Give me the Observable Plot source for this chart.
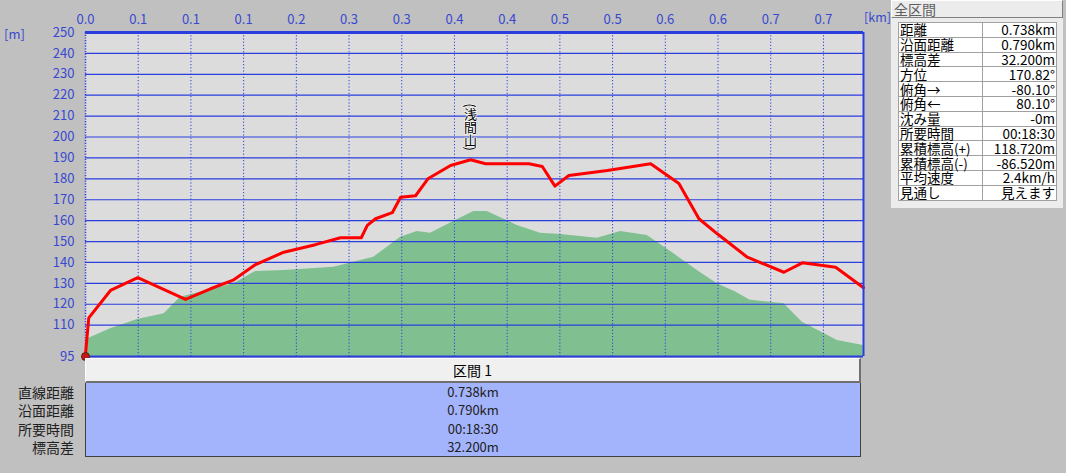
<!DOCTYPE html>
<html lang="ja">
<head>
<meta charset="utf-8">
<script src="https://cdn.jsdelivr.net/npm/d3@7"></script>
<script src="https://cdn.jsdelivr.net/npm/@observablehq/plot@0.6"></script>
<style>
  html, body { margin: 0; padding: 0; background: #c0c0c0; }
  #wrap { position: relative; width: 1066px; height: 473px; overflow: hidden; background: #c0c0c0;
          font-family: "Noto Sans CJK JP", "DejaVu Sans", sans-serif; }
  #chart { position: absolute; left: 0; top: 0; }
  .unit { position: absolute; color: #3848d0; font-size: 13px; line-height: 14px; }
  #panelHead { position: absolute; left: 891px; top: 0px; width: 172px; background: #ececec;
               border: 1px solid #ffffff; border-right-color: #808080; border-bottom-color: #808080;
               font-size: 14px; line-height: 16px; color: #606060; padding-left: 2px; box-sizing: border-box; height: 18px; }
  #panelBody { position: absolute; left: 891px; top: 18px; width: 172px; height: 190px; background: #ececec; }
  #summary { position: absolute; left: 7px; top: 4px; width: 159px; border-collapse: collapse; background: #fff; }
  #summary td { border: 1px solid #a0a0a0; height: 13.8px; padding: 0 1px; font-size: 13.5px; line-height: 13px; color: #000; white-space: nowrap; }
  #summary td.v { text-align: right; }
  #segHead { position: absolute; left: 85px; top: 358px; width: 776px; height: 25px; box-sizing: border-box;
             background: #f0f0f0; border: 1px solid #ffffff; border-right: 2px solid #707070; border-bottom: 2px solid #707070;
             text-align: center; font-size: 14px; line-height: 23px; color: #000; }
  #segBody { position: absolute; left: 85px; top: 383px; width: 776px; height: 74px; box-sizing: border-box;
             background: #a4b4fc; border: 1px solid #404040; border-top: none; }
  .segVal { position: absolute; left: 0; width: 100%; text-align: center; font-size: 13px; line-height: 16px; color: #202020; }
  .segLab { position: absolute; right: calc(1066px - 74px); font-size: 14px; line-height: 16px; color: #202020; text-align: right; white-space: nowrap; }
</style>
</head>
<body>
<div id="wrap">
  <div id="chart"></div>
  <div class="unit" style="left:4px; top:27px;">[m]</div>
  <div class="unit" style="left:864px; top:10px; font-size:12.5px;">[km]</div>
  <div id="panelHead"></div>
  <div id="panelBody"><table id="summary"></table></div>
  <div id="segHead"></div>
  <div id="segBody"></div>
</div>
<script>
// ---- Route elevation profile (red line): distance [km], elevation [m]
const routeKm   = [0, 0.0031, 0.0237, 0.0496, 0.0949, 0.1186, 0.1407, 0.1613, 0.1881, 0.2180, 0.2419, 0.2616, 0.2673, 0.2751, 0.2910, 0.2989, 0.3131, 0.3248, 0.3463, 0.3653, 0.3795, 0.4206, 0.4333, 0.4453, 0.4585, 0.4950, 0.5361, 0.5629, 0.5819, 0.5993, 0.6278, 0.6625, 0.6800, 0.7116, 0.7380];
const routeElev = [96, 113.5, 126.6, 132.7, 122.3, 127.4, 131.7, 139.0, 144.9, 148.5, 151.8, 151.8, 157.7, 160.9, 163.8, 171.2, 171.9, 180.0, 186.4, 189.1, 187.2, 187.2, 185.9, 176.5, 181.6, 184.0, 187.2, 177.8, 160.9, 153.7, 142.5, 135.3, 139.8, 137.7, 127.9];

// ---- Terrain cross-section (green area): distance [km], elevation [m]
const terrainKm   = [0, 0.0237, 0.0493, 0.0746, 0.0901, 0.1407, 0.1613, 0.1881, 0.2356, 0.2609, 0.2735, 0.2989, 0.3147, 0.3273, 0.3510, 0.3684, 0.3811, 0.4095, 0.4317, 0.4507, 0.4855, 0.5076, 0.5329, 0.5582, 0.5804, 0.5993, 0.6167, 0.6300, 0.6626, 0.6800, 0.7132, 0.7380];
const terrainElev = [103, 108.3, 112.7, 115.4, 123.4, 129.8, 135.7, 136.1, 137.7, 140.9, 142.5, 152.1, 154.8, 154.0, 160.1, 164.4, 164.4, 157.7, 154.0, 153.4, 151.6, 154.8, 152.9, 144.1, 136.1, 129.8, 125.8, 122.0, 120.2, 111.4, 102.7, 100.3];

// ---- Axes
const xTicks      = [0, 0.05, 0.10, 0.15, 0.20, 0.25, 0.30, 0.35, 0.40, 0.45, 0.50, 0.55, 0.60, 0.65, 0.70];
const xTickLabels = ["0.0", "0.1", "0.1", "0.1", "0.2", "0.3", "0.3", "0.4", "0.4", "0.5", "0.5", "0.6", "0.6", "0.7", "0.7"];
const yTicks      = [95, 110, 120, 130, 140, 150, 160, 170, 180, 190, 200, 210, 220, 230, 240, 250];
const xDomain     = [0, 0.738];
const yDomain     = [95, 250];

// ---- Peak label
const peakName = ["(浅間山)"];
const peakKm   = [0.3653];
const peakElev = [189.1];

// ---- Summary panel (全区間)
const panelTitle  = "全区間";
const summaryKeys = ["距離", "沿面距離", "標高差", "方位", "俯角→", "俯角←", "沈み量", "所要時間", "累積標高(+)", "累積標高(-)", "平均速度", "見通し"];
const summaryVals = ["0.738km", "0.790km", "32.200m", "170.82°", "-80.10°", "80.10°", "-0m", "00:18:30", "118.720m", "-86.520m", "2.4km/h", "見えます"];

// ---- Segment table
const segTitle  = "区間 1";
const segKeys   = ["直線距離", "沿面距離", "所要時間", "標高差"];
const segVals   = ["0.738km", "0.790km", "00:18:30", "32.200m"];

const route   = routeKm.map((d, i) => ({km: d, elev: routeElev[i]}));
const terrain = terrainKm.map((d, i) => ({km: d, elev: terrainElev[i]}));
const peaks   = peakName.map((n, i) => ({name: n, km: peakKm[i], elev: peakElev[i]}));

const BLUE = "#2a3ee0";
const LABEL = "#3848d0";

const chart = Plot.plot({
  width: 1066,
  height: 473,
  marginLeft: 85,
  marginRight: 203,
  marginTop: 32,
  marginBottom: 117,
  style: {background: "transparent", fontFamily: "'Noto Sans CJK JP', 'DejaVu Sans', sans-serif", fontSize: "13px", overflow: "visible"},
  x: {domain: xDomain, axis: null},
  y: {domain: yDomain, axis: null},
  marks: [
    Plot.frame({fill: "#dcdcdc"}),
    Plot.areaY(terrain, {x: "km", y1: yDomain[0], y2: "elev", fill: "#80c090", curve: "linear"}),
    Plot.ruleY(yTicks.filter(t => t > yDomain[0] && t < yDomain[1]), {stroke: BLUE, strokeWidth: 1.2}),
    Plot.ruleX(xTicks.filter(t => t > xDomain[0]), {stroke: BLUE, strokeWidth: 1, strokeDasharray: "1.2,2"}),
    Plot.ruleX([xDomain[0]], {stroke: BLUE, strokeWidth: 1.5, strokeDasharray: "1.2,1.5"}),
    Plot.line(route, {x: "km", y: "elev", stroke: "#ff0000", strokeWidth: 3, strokeLinejoin: "round"}),
    Plot.text(peaks, {x: "km", y: "elev", text: "name", className: "peak-label", fontSize: 13, fill: "#000", stroke: "#ffffff", strokeWidth: 1.2}),
    Plot.ruleY([yDomain[1]], {stroke: BLUE, strokeWidth: 3}),
    Plot.ruleY([yDomain[0]], {stroke: BLUE, strokeWidth: 2}),
    Plot.ruleX([xDomain[1]], {stroke: BLUE, strokeWidth: 2}),
    Plot.dot([route[0]], {x: "km", y: () => yDomain[0], r: 4, fill: "#c01818", stroke: "#602010", strokeWidth: 1}),
    Plot.axisX({anchor: "top", ticks: xTicks, tickFormat: (d, i) => xTickLabels[i], tickSize: 0, tickPadding: 9, color: LABEL, fontSize: 13, label: null}),
    Plot.axisY({anchor: "left", ticks: yTicks, tickFormat: d => String(d), tickSize: 0, tickPadding: 11, color: LABEL, fontSize: 13, label: null})
  ]
});
// Render the peak name vertically (縦書き), ending just above the summit
d3.select(chart).selectAll(".peak-label text")
  .attr("dy", "-13")
  .attr("text-anchor", "end")
  .attr("paint-order", "stroke")
  .style("writing-mode", "vertical-rl")
  .style("dominant-baseline", "central");
document.getElementById("chart").appendChild(chart);

// Panel
document.getElementById("panelHead").textContent = panelTitle;
const tbl = document.getElementById("summary");
summaryKeys.forEach((k, i) => {
  const tr = document.createElement("tr");
  const a = document.createElement("td"); a.textContent = k;
  const b = document.createElement("td"); b.className = "v"; b.textContent = summaryVals[i];
  tr.appendChild(a); tr.appendChild(b); tbl.appendChild(tr);
});

// Segment table
document.getElementById("segHead").textContent = segTitle;
const segBody = document.getElementById("segBody");
const wrap = document.getElementById("wrap");
segKeys.forEach((k, i) => {
  const top = 1 + i * 18.3;
  const v = document.createElement("div");
  v.className = "segVal"; v.style.top = top + "px"; v.textContent = segVals[i];
  segBody.appendChild(v);
  const l = document.createElement("div");
  l.className = "segLab"; l.style.top = (383 + top) + "px"; l.textContent = k;
  wrap.appendChild(l);
});
</script>
</body>
</html>
